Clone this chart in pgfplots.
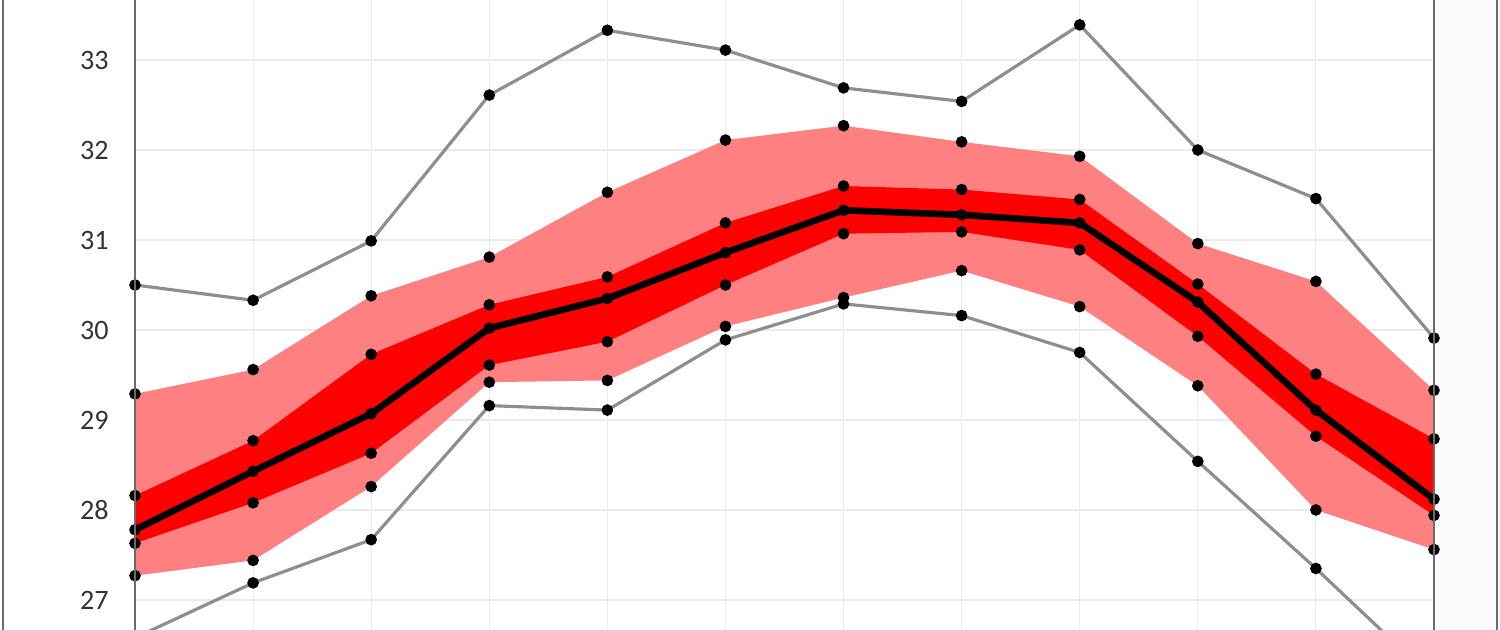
\documentclass[border=0pt]{standalone}
\usepackage{fontspec}
\setmainfont{Carlito}
\usepackage{pgfplots}
\usepackage{pgfplotstable}
\pgfplotsset{compat=1.18}
\usepgfplotslibrary{fillbetween}

\definecolor{bandlight}{HTML}{FF8080}
\definecolor{banddark}{HTML}{FF0000}
\definecolor{rangegray}{HTML}{8E8E8E}
\definecolor{framegray}{HTML}{6A6A6A}
\definecolor{gridgray}{HTML}{EBEBEB}
\definecolor{margin}{HTML}{FBFBFB}

% x  max  upper-light  upper-dark  mean  lower-dark  lower-light  min
\pgfplotstableread{
x  mx     ul     ud     mean   ld     ll     mn
0  30.50  29.29  28.16  27.78  27.63  27.27  26.58
1  30.33  29.56  28.77  28.43  28.08  27.44  27.19
2  30.99  30.38  29.73  29.07  28.63  28.26  27.67
3  32.61  30.81  30.28  30.02  29.61  29.42  29.16
4  33.33  31.53  30.59  30.35  29.87  29.44  29.11
5  33.11  32.11  31.19  30.86  30.50  30.04  29.89
6  32.69  32.27  31.60  31.33  31.07  30.36  30.29
7  32.54  32.09  31.56  31.28  31.09  30.66  30.16
8  33.39  31.93  31.45  31.19  30.89  30.26  29.75
9  32.00  30.96  30.51  30.31  29.93  29.38  28.54
10 31.46  30.54  29.51  29.11  28.82  28.00  27.35
11 29.91  29.33  28.79  28.12  27.94  27.56  26.11
}\datatable

\begin{document}
\begin{tikzpicture}
  % light margins left and right of the plot area
  \fill[white] (-1.35,0) rectangle (0,6.3);
  \fill[margin] (12.99,0) rectangle (13.65,6.3);
  \begin{axis}[
    at={(0,0)}, anchor=south west,
    scale only axis,
    width=12.99cm, height=6.3cm,
    xmin=0, xmax=11,
    ymin=26.6667, ymax=33.6667,
    xtick={0,...,11}, xticklabels={},
    ytick={27,...,33},
    grid=major,
    grid style={gridgray, line width=0.3pt},
    axis line style={draw=none},
    tick style={draw=none},
    /pgf/number format/assume math mode=true,
    yticklabel style={font=\fontsize{8}{9}\selectfont, text=black!80, xshift=-0.14cm},
    dots/.style={only marks, mark=*, mark size=1.45pt, black},
  ]
    % band boundaries
    \addplot[name path=ul, draw=none] table[x=x, y=ul] {\datatable};
    \addplot[name path=ll, draw=none] table[x=x, y=ll] {\datatable};
    \addplot[name path=ud, draw=none] table[x=x, y=ud] {\datatable};
    \addplot[name path=ld, draw=none] table[x=x, y=ld] {\datatable};
    \addplot[bandlight] fill between[of=ul and ll];
    \addplot[banddark] fill between[of=ud and ld];

    % range lines
    \addplot[rangegray, line width=0.9pt] table[x=x, y=mx] {\datatable};
    \addplot[rangegray, line width=0.9pt] table[x=x, y=mn] {\datatable};
    % mean
    \addplot[black, line width=1.9pt] table[x=x, y=mean] {\datatable};

    % dots on every series
    \addplot[dots] table[x=x, y=mx] {\datatable};
    \addplot[dots] table[x=x, y=ul] {\datatable};
    \addplot[dots] table[x=x, y=ud] {\datatable};
    \addplot[dots] table[x=x, y=mean] {\datatable};
    \addplot[dots] table[x=x, y=ld] {\datatable};
    \addplot[dots] table[x=x, y=ll] {\datatable};
    \addplot[dots] table[x=x, y=mn] {\datatable};
  \end{axis}
  \draw[framegray, line width=0.6pt] (0,0) -- (0,6.3);
  \draw[framegray, line width=0.6pt] (12.99,0) -- (12.99,6.3);
  \draw[framegray, line width=0.6pt] (-1.32,0) -- (-1.32,6.3);
  \draw[framegray, line width=0.6pt] (13.62,0) -- (13.62,6.3);
  \pgfresetboundingbox
  \useasboundingbox (-1.35,0) rectangle (13.65,6.3);
\end{tikzpicture}
\end{document}
